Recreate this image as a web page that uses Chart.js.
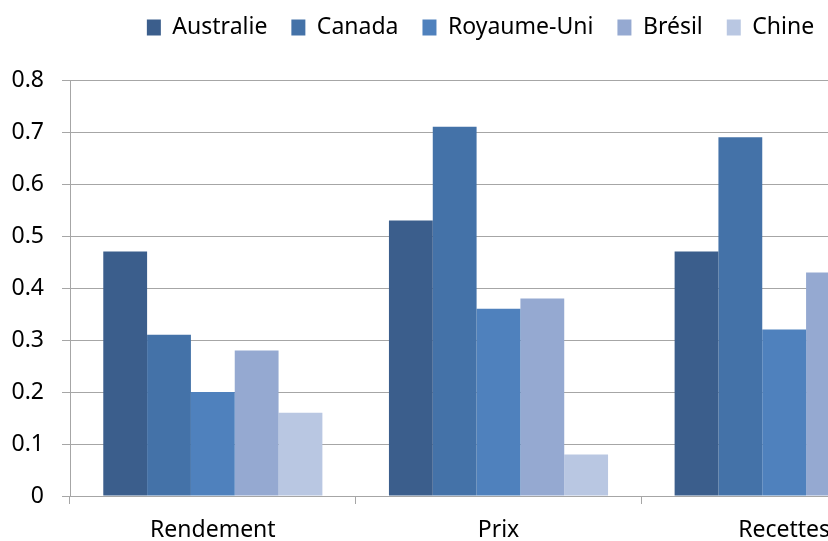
<!DOCTYPE html>
<html>
<head>
<meta charset="utf-8">
<script src="https://cdn.jsdelivr.net/npm/chart.js@4"></script>
<style>
  html, body { margin: 0; padding: 0; background: #fff; overflow: hidden; }
  #wrap { width: 960px; height: 541px; }
</style>
</head>
<body>
<div id="wrap"><canvas id="chart" width="960" height="541"></canvas></div>
<script>
const categories = ['Rendement', 'Prix', 'Recettes'];
const australie = [0.47, 0.53, 0.47];
const canada = [0.31, 0.71, 0.69];
const royaumeUni = [0.20, 0.36, 0.32];
const bresil = [0.28, 0.38, 0.43];
const chine = [0.16, 0.08, 0.10]; // last one is off the picture
const yTicks = [0, 0.1, 0.2, 0.3, 0.4, 0.5, 0.6, 0.7, 0.8];

const font = { family: 'Noto Sans', size: 23 };
const gridColor = '#a6a6a6';

function ds(label, data, color) {
  return {
    label: label,
    data: data,
    backgroundColor: color,
    borderWidth: 0,
    barPercentage: 1,
    categoryPercentage: 0.767
  };
}

// push the plot down under the legend, centre legend on the full canvas
const legendGap = {
  id: 'legendGap',
  beforeInit(chart) {
    const fit = chart.legend.fit;
    chart.legend.fit = function () {
      fit.call(this);
      this.height = 88;
    };
  },
  afterLayout(chart) {
    chart.legend.left += 17;
    chart.legend.right += 17;
  }
};

new Chart(document.getElementById('chart'), {
  type: 'bar',
  data: {
    labels: categories,
    datasets: [
      ds('Australie', australie, '#3b5e8c'),
      ds('Canada', canada, '#4472a8'),
      ds('Royaume-Uni', royaumeUni, '#4f81bd'),
      ds('Brésil', bresil, '#95a9d1'),
      ds('Chine', chine, '#b9c7e2')
    ]
  },
  plugins: [legendGap],
  options: {
    responsive: false,
    animation: false,
    layout: { padding: { left: 0, right: 33, top: -8, bottom: 0 } },
    plugins: {
      tooltip: { enabled: false },
      legend: {
        position: 'top',
        labels: {
          font: font,
          color: '#000',
          boxWidth: 14,
          boxHeight: 16,
          padding: 24
        }
      }
    },
    scales: {
      y: {
        min: 0,
        max: 0.8,
        afterFit: (s) => { s.width = 70; },
        afterBuildTicks: (s) => { s.ticks = yTicks.map(v => ({ value: v })); },
        ticks: {
          font: font,
          color: '#000',
          padding: 18,
          callback: (v) => String(v)
        },
        grid: { color: gridColor, tickLength: 8, lineWidth: 1 },
        border: { color: gridColor }
      },
      x: {
        afterFit: (s) => { s.height = 45; },
        ticks: { font: font, color: '#000', padding: 13 },
        grid: { offset: true, drawOnChartArea: false, color: gridColor, tickLength: 8 },
        border: { color: gridColor }
      }
    }
  }
});
</script>
</body>
</html>
